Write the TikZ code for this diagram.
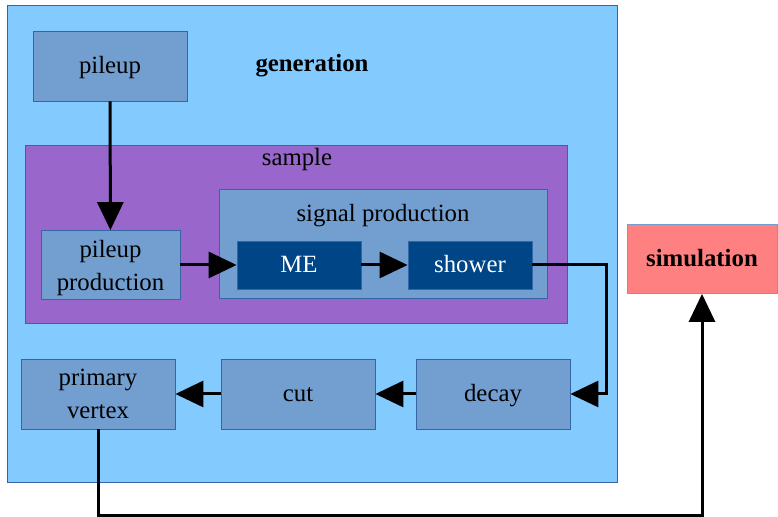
\documentclass[tikz,border=0pt]{standalone}
\usepackage{fontspec}
\setmainfont{Liberation Serif}
\usetikzlibrary{arrows.meta}

\definecolor{genblue}{HTML}{83CAFF}
\definecolor{boxblue}{HTML}{729FCF}
\definecolor{sampleviolet}{HTML}{9966CC}
\definecolor{medark}{HTML}{004586}
\definecolor{simred}{HTML}{FF8080}
\definecolor{edgeblue}{HTML}{3465A4}

\begin{document}
\begin{tikzpicture}[
  x=0.5pt, y=-0.5pt,
  every node/.style={rectangle, align=center, inner sep=0pt, font=\fontsize{12.4}{16.5}\selectfont},
  area/.style={draw=edgeblue, line width=0.4pt},
  oneline/.style={text height=0.72em, text depth=0pt},
  stage/.style={area, fill=boxblue, minimum width=77pt, minimum height=35pt, oneline},
  twoline/.style={text height={}, text depth=0pt},
  inner/.style={area, fill=medark, text=white, minimum width=62pt, minimum height=24pt, oneline},
  flow/.style={line width=1.5pt, -{Triangle[length=14pt, width=13pt]}}
]
\useasboundingbox (0,0) rectangle (778,517);

% containers
\node[area, fill=genblue, minimum width=305pt, minimum height=238.5pt] (gen) at (312,243.5) {};
\node[font=\fontsize{12.4}{16.5}\selectfont\bfseries] (genlabel) at (312,66) {generation};
\node[area, fill=sampleviolet, minimum width=271pt, minimum height=89pt] (sample) at (296,234) {};
\node (samplelabel) at (297,160) {sample};
\node[area, fill=boxblue, minimum width=164pt, minimum height=54.5pt] (sigprod) at (383,243.5) {};
\node (sigprodlabel) at (383,216) {signal production};

% stages
\node[stage] (pileup) at (110,66) {pileup};
\node[stage, twoline, minimum width=69.5pt, minimum height=34.5pt] (pileprod) at (110.5,265) {pileup\\production};
\node[inner] (me) at (299,265) {ME};
\node[inner] (shower) at (470,265) {shower};
\node[stage] (decay) at (493,394) {decay};
\node[stage] (cut) at (298,394) {cut};
\node[stage, twoline] (primvtx) at (98,394) {primary\\vertex};
\node[area, oneline, draw=boxblue, fill=simred, minimum width=75pt, minimum height=34.5pt, font=\fontsize{12.4}{16.5}\selectfont\bfseries] (sim) at (702,259) {simulation};

% connections
\draw[flow] (pileup) -- (pileprod);
\draw[flow] (pileprod) -- (me);
\draw[flow] (me) -- (shower);
\draw[flow] (shower.east) -- ++(37pt,0) |- (decay.east);
\draw[flow] (decay) -- (cut);
\draw[flow] (cut) -- (primvtx);
\draw[flow] (primvtx.south) -- ++(0,-43pt) -| (sim.south);

\end{tikzpicture}
\end{document}
